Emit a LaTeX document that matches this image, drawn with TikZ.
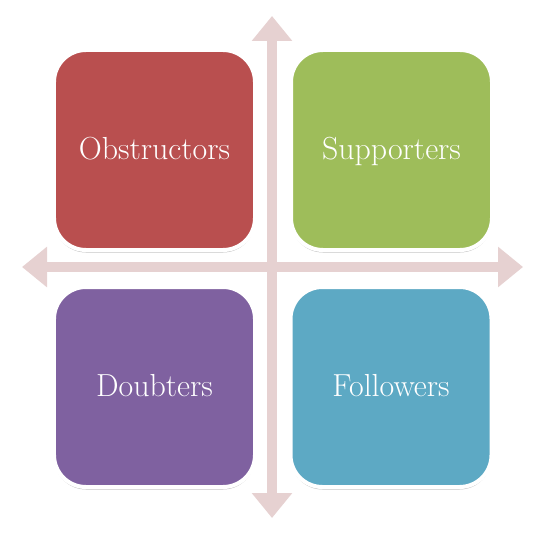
\documentclass[tikz,border=0pt]{standalone}
\usepackage{xcolor}
\usepackage{tikz}
\usetikzlibrary{arrows.meta,positioning,shadows}

\definecolor{axispink}{HTML}{E6D1D1}
\definecolor{obstred}{HTML}{B94F4F}
\definecolor{suppgreen}{HTML}{9EBD5A}
\definecolor{doubpurple}{HTML}{7F61A0}
\definecolor{follblue}{HTML}{5DA9C4}

\tikzset{
    axis/.style={axispink, line width=10.5bp,
        {Triangle[width=39bp,length=25bp]}-{Triangle[width=39bp,length=25bp]}},
    quadbox/.style={draw=white, line width=4bp, rounded corners=32bp,
        minimum width=201bp, minimum height=200bp, inner sep=0pt,
        text=white, font=\fontsize{32}{38}\selectfont,
        text height=19bp, text depth=0bp,
        drop shadow={shadow xshift=0bp, shadow yshift=-2.5bp, opacity=0.25, fill=black}}
}

\begin{document}
\begin{tikzpicture}[x=1bp,y=-1bp]
    \useasboundingbox (0,0) rectangle (544,533);

    \coordinate (left) at (22,267);
    \coordinate (right) at (523,267);
    \coordinate (top) at (272,16);
    \coordinate (bottom) at (272,518);

    \draw[axis] (left) -- (right);
    \draw[axis] (bottom) -- (top);

    \node[quadbox, fill=obstred] (obst) at (154.5,150) {Obstructors};
    \node[quadbox, fill=suppgreen] (supp) at (391.5,150) {Supporters};
    \node[quadbox, fill=doubpurple] (doub) at (154.5,387) {Doubters};
    \node[quadbox, fill=follblue] (foll) at (391,387) {Followers};
\end{tikzpicture}
\end{document}
